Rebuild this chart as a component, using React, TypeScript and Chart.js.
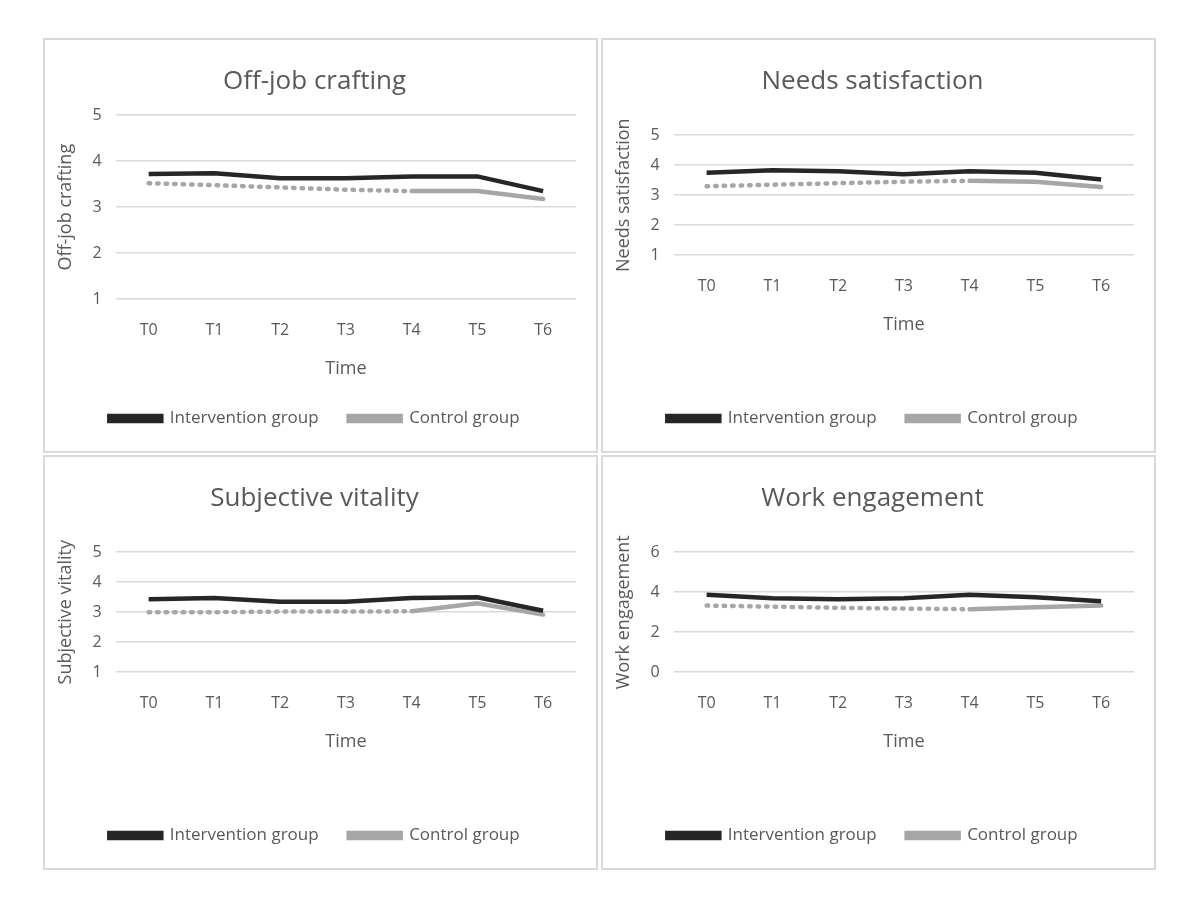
import React, { useEffect, useRef } from "react";
import { Chart, registerables } from "chart.js";
Chart.register(...registerables);

const timeLabels = ["T0", "T1", "T2", "T3", "T4", "T5", "T6"];
const offJobIntervention = [3.72, 3.74, 3.63, 3.63, 3.67, 3.67, 3.35];
const offJobControl = [3.52, 3.48, 3.43, 3.38, 3.35, 3.35, 3.18];
const needsIntervention = [3.75, 3.83, 3.8, 3.7, 3.8, 3.75, 3.52];
const needsControl = [3.3, 3.35, 3.4, 3.45, 3.48, 3.45, 3.27];
const vitalityIntervention = [3.43, 3.47, 3.35, 3.35, 3.47, 3.5, 3.05];
const vitalityControl = [3.0, 3.0, 3.02, 3.02, 3.03, 3.3, 2.92];
const engagementIntervention = [3.87, 3.7, 3.65, 3.7, 3.87, 3.75, 3.55];
const engagementControl = [3.33, 3.28, 3.22, 3.18, 3.15, 3.25, 3.33];

const FONT = "'Open Sans', 'Noto Sans', sans-serif";
const GREY = "#595959";

type PanelProps = {
  title: string; yTitle: string; inter: number[]; ctrl: number[];
  min: number; max: number; step: number;
  left: number; top: number; titleBottom: number; timeBottom: number;
};

function Panel(p: PanelProps) {
  const ref = useRef<HTMLCanvasElement>(null);
  useEffect(() => {
    const chart = new Chart(ref.current!, {
      type: "line",
      data: {
        labels: timeLabels,
        datasets: [
          { label: "Intervention group", data: p.inter, borderColor: "#262626", backgroundColor: "#262626", borderWidth: 4.5, pointRadius: 0, tension: 0 },
          {
            label: "Control group", data: p.ctrl, borderColor: "#a6a6a6", backgroundColor: "#a6a6a6", borderWidth: 4.5, pointRadius: 0, tension: 0,
            segment: { borderDash: (ctx: any) => (ctx.p0DataIndex < 4 ? [1.5, 7] : undefined) },
            borderCapStyle: "round",
          } as any,
        ],
      },
      options: {
        animation: false, responsive: false, maintainAspectRatio: false,
        layout: { padding: { left: 8, right: 20, top: 4, bottom: 14 } },
        plugins: {
          title: { display: true, text: p.title, color: GREY, font: { family: FONT, size: 26, weight: "normal" }, padding: { top: 22, bottom: p.titleBottom } },
          legend: {
            position: "bottom",
            labels: { color: GREY, font: { family: FONT, size: 17 }, boxWidth: 52, boxHeight: 5, padding: 30 },
          },
          tooltip: { enabled: false },
        },
        scales: {
          x: {
            offset: true,
            grid: { display: false }, border: { display: false },
            ticks: { color: GREY, font: { family: FONT, size: 16 }, padding: 14 },
            title: { display: true, text: "Time", color: GREY, font: { family: FONT, size: 18 }, padding: { top: 4, bottom: p.timeBottom } },
          },
          y: {
            min: p.min, max: p.max,
            grid: { color: "#d9d9d9", lineWidth: 1.5, drawTicks: false }, border: { display: false },
            ticks: { stepSize: p.step, color: GREY, font: { family: FONT, size: 16 }, padding: 14 },
            title: { display: true, text: p.yTitle, color: GREY, font: { family: FONT, size: 18 }, padding: 2 },
          },
        },
      } as any,
    });
    return () => chart.destroy();
  }, []);
  return (
    <div style={{ position: "absolute", left: p.left, top: p.top, width: 555, height: 415, border: "2px solid #d9d9d9", boxSizing: "border-box", background: "#fff" }}>
      <canvas ref={ref} width={551} height={411} />
    </div>
  );
}

export default function App() {
  return (
    <div style={{ position: "relative", width: 1184, height: 892 }}>
      <Panel title="Off-job crafting" yTitle="Off-job crafting" inter={offJobIntervention} ctrl={offJobControl} min={1} max={5} step={1} left={35} top={30} titleBottom={18} timeBottom={0} />
      <Panel title="Needs satisfaction" yTitle="Needs satisfaction" inter={needsIntervention} ctrl={needsControl} min={1} max={5} step={1} left={593} top={30} titleBottom={38} timeBottom={44} />
      <Panel title="Subjective vitality" yTitle="Subjective vitality" inter={vitalityIntervention} ctrl={vitalityControl} min={1} max={5} step={1} left={35} top={447} titleBottom={38} timeBottom={44} />
      <Panel title="Work engagement" yTitle="Work engagement" inter={engagementIntervention} ctrl={engagementControl} min={0} max={6} step={2} left={593} top={447} titleBottom={38} timeBottom={44} />
    </div>
  );
}
